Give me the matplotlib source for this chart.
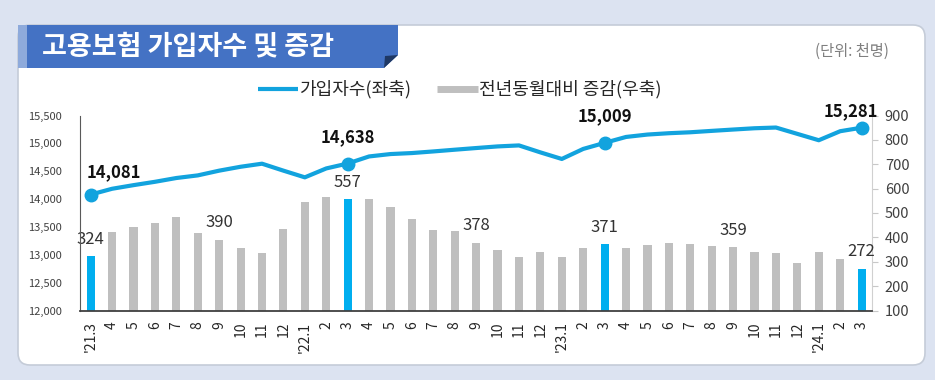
import matplotlib
matplotlib.use("Agg")
import matplotlib.pyplot as plt
from matplotlib.patches import FancyBboxPatch, Polygon, Rectangle
from matplotlib.lines import Line2D

plt.rcParams['font.family'] = ['Noto Sans CJK KR', 'DejaVu Sans']

# 월 라벨 ('21.3 ~ '24.3)
months = ["'21.3", "4", "5", "6", "7", "8", "9", "10", "11", "12",
          "'22.1", "2", "3", "4", "5", "6", "7", "8", "9", "10", "11", "12",
          "'23.1", "2", "3", "4", "5", "6", "7", "8", "9", "10", "11", "12",
          "'24.1", "2", "3"]

# 가입자수 (천명, 좌축)
subscribers = [14081, 14185, 14250, 14310, 14378, 14425, 14510, 14580, 14635, 14510,
               14390, 14550, 14638, 14765, 14808, 14826, 14855, 14886, 14916, 14945, 14963, 14838,
               14720, 14900, 15009, 15115, 15158, 15182, 15199, 15224, 15248, 15271, 15284, 15170,
               15056, 15218, 15281]

# 전년동월대비 증감 (천명, 우축)
yoy_change = [324, 422, 442, 461, 485, 416, 390, 357, 334, 434,
              547, 565, 557, 557, 523, 475, 431, 427, 378, 350, 319, 342,
              318, 357, 371, 357, 367, 377, 373, 363, 359, 341, 336, 296,
              341, 312, 272]

highlight_idx = [0, 12, 24, 36]           # 매년 3월
bar_label_idx = [0, 6, 12, 18, 24, 30, 36]
line_label_idx = [0, 12, 24, 36]

BLUE = '#12a3de'
BAR_BLUE = '#00aeef'
GRAY = '#bfbfbf'

fig = plt.figure(figsize=(9.35, 3.8), dpi=100)
fig.patch.set_facecolor('#dce3f1')

# 배경 카드 / 타이틀 (픽셀 좌표)
bg = fig.add_axes([0, 0, 1, 1])
bg.set_xlim(0, 935)
bg.set_ylim(380, 0)
bg.axis('off')
bg.set_zorder(-5)

bg.add_patch(FancyBboxPatch((18, 25), 907, 340, boxstyle="round,pad=0,rounding_size=12",
                            facecolor='white', edgecolor='#c5ccd8', lw=1.2))
bg.add_patch(Polygon([(18, 25), (398, 25), (398, 55), (384, 68), (18, 68)],
                     closed=True, facecolor='#4472c4', edgecolor='none'))
bg.add_patch(Rectangle((18, 25), 9, 43, facecolor='#8eaadb', edgecolor='none'))
bg.add_patch(Polygon([(384, 68), (398, 55), (385, 56)], closed=True,
                     facecolor='#1f3864', edgecolor='none'))
bg.text(42, 46, '고용보험 가입자수 및 증감', color='white', fontsize=19.5,
        fontweight='bold', va='center', ha='left')
bg.text(889, 51, '(단위: 천명)', color='#7f7f7f', fontsize=11, va='center', ha='right')

# 범례
bg.add_line(Line2D([258, 298], [89, 89], color=BLUE, lw=3, solid_capstyle='butt'))
bg.text(299, 89, '가입자수(좌축)', fontsize=13, va='center', ha='left', color='#262626')
bg.add_line(Line2D([437, 478], [89, 89], color=GRAY, lw=5, solid_capstyle='butt'))
bg.text(479, 89, '전년동월대비 증감(우축)', fontsize=13, va='center', ha='left', color='#262626')

# 메인 차트
ax = fig.add_axes([80 / 935, 1 - 310.5 / 380, (872.3 - 80) / 935, 195 / 380])
ax2 = ax.twinx()

x = list(range(len(months)))
bar_colors = [BAR_BLUE if i in highlight_idx else GRAY for i in x]
ax2.bar(x, yoy_change, width=0.38, color=bar_colors, zorder=2)
ax2.set_ylim(100, 900)
ax2.set_yticks(range(100, 901, 100))
ax2.tick_params(axis='y', length=4, color='#c8c8c8', labelsize=10.5, labelcolor='#404040', pad=5)

for i in bar_label_idx:
    ax2.annotate(f'{yoy_change[i]}', (i, yoy_change[i]), xytext=(0, 6),
                 textcoords='offset points', ha='center', va='bottom',
                 fontsize=12, color='#333333')

ax.set_zorder(ax2.get_zorder() + 1)
ax.patch.set_visible(False)
ax.plot(x, subscribers, color=BLUE, lw=3, zorder=3, solid_joinstyle='round')
ax.plot([x[i] for i in line_label_idx], [subscribers[i] for i in line_label_idx],
        'o', color=BLUE, markersize=9, zorder=4)

line_offsets = {0: (23, 22), 12: (0, 26), 24: (0, 27), 36: (-11, 16)}
for i in line_label_idx:
    dx, dy = line_offsets[i]
    ax.annotate(f'{subscribers[i]:,}', (i, subscribers[i]), xytext=(dx * 0.72, dy * 0.72),
                textcoords='offset points', ha='center', va='center',
                fontsize=12, fontweight='bold', color='#111111')

ax.set_ylim(12000, 15500)
ax.set_yticks(range(12000, 15501, 500))
ax.set_yticklabels([f'{v:,}' for v in range(12000, 15501, 500)])
ax.tick_params(axis='y', length=0, labelsize=8, labelcolor='#404040', pad=13)
ax.set_xlim(-0.5, 36.5)
ax.set_xticks(x)
ax.set_xticklabels(months, rotation=90, fontsize=10, color='#262626')
ax.tick_params(axis='x', length=0, pad=8)

for a in (ax, ax2):
    a.spines['top'].set_visible(False)
ax.spines['left'].set_color('#595959')
ax.spines['bottom'].set_color('#404040')
ax.spines['bottom'].set_linewidth(1.3)
ax.spines['right'].set_visible(False)
ax2.spines['left'].set_visible(False)
ax2.spines['bottom'].set_visible(False)
ax2.spines['right'].set_color('#d0d0d0')

fig.savefig('out.png', dpi=100, facecolor=fig.get_facecolor())
